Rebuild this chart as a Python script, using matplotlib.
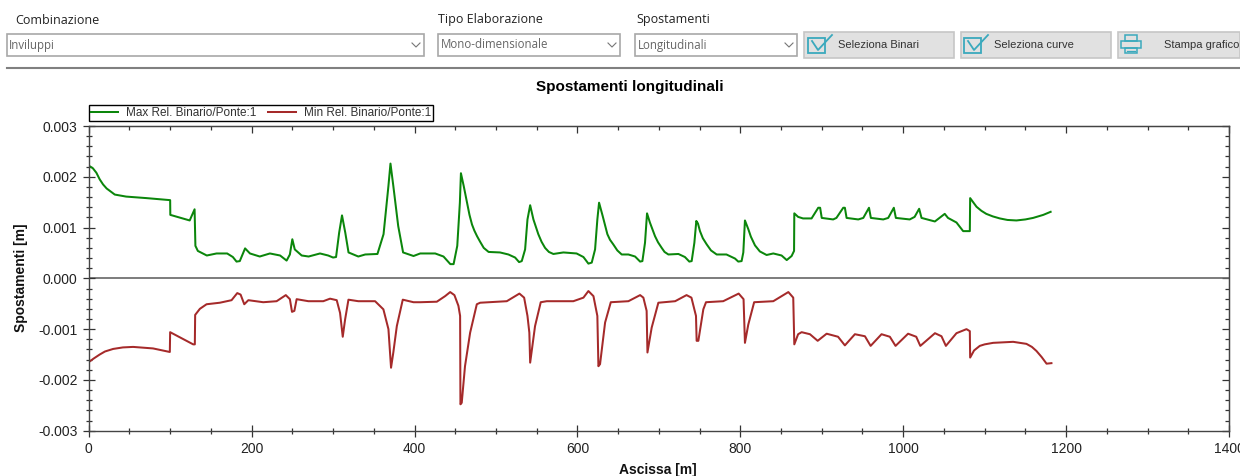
import matplotlib
matplotlib.use("Agg")
import matplotlib.pyplot as plt
from matplotlib.lines import Line2D
from matplotlib.patches import Rectangle
from matplotlib.ticker import MultipleLocator, FormatStrFormatter, NullFormatter
from matplotlib.transforms import Affine2D

# ==========================================
# DATA
# ==========================================
max_x = [0, 5, 9.4, 13.5, 17.6, 22, 32, 46, 71, 100, 100.2, 124, 130, 131, 134, 145, 157, 170, 177, 181.5, 185.5, 192, 198,
         210, 222.5, 235, 243, 247, 250, 253, 261.5, 270, 284, 294, 300, 303.7, 307.5, 311, 315, 319, 331, 339.5,
         354.5, 362, 368, 370.5, 374, 380, 386, 398.8, 407, 425.4, 435.6, 444, 448, 452.5, 455.7, 457, 460.4,
         464.8, 467.5, 470.6, 473.5, 476.8, 480.6, 485, 491, 505, 515.3, 523.5, 528.4, 531.7, 535.8, 538.7, 542, 546, 552, 556, 560.3,
         565, 570.5, 582.8, 599, 607.4, 613.5, 617.6, 621.7, 624.5, 626.6, 631, 636.8, 640, 644, 649, 654.4, 662.6, 670.8, 677,
         679.8, 683, 685.5, 689, 695.3, 699, 703.5, 707, 711.7, 724, 732, 737.4, 740.3, 743.6, 746, 748, 750.5, 754, 758.7, 764, 771,
         783, 793.5, 797.5, 801.6, 803.7, 805.7, 809.8, 813, 818, 824, 832.3, 840.5, 850.7, 857, 863, 866, 866.3, 871, 877,
         887.5, 895.7, 898, 900, 914, 918, 926.4, 928.4, 930.5, 944.8, 951, 958, 960.3, 975.5, 981.6, 988.5, 991,
         1008, 1014, 1019.6, 1022.5, 1038.9, 1051, 1055, 1065.4, 1073.6, 1081.8, 1082.2, 1090, 1096, 1102, 1110, 1118.6, 1128, 1139,
         1150, 1159.5, 1172, 1181]
max_y = [.00222, .00217, .00208, .00195, .00185, .00177, .00165, .00161, .00158, .00154, .00125, .00114, .00136, .00064, .00054,
         .00045, .00049, .00049, .00042, .00033, .00034, .00059, .00049, .00043, .00049, .00045, .00035, .00047,
         .00077, .00057, .00045, .00043, .00049, .00045, .00041, .00042, .0009, .00124, .0009, .00051, .00043,
         .00047, .00048, .00087, .00182, .00226, .00182, .00103, .00051, .00044, .00049, .00049, .00043, .00028,
         .00028, .00064, .00149, .00207, .00182, .00146, .00125, .00106, .00094, .00083, .00072, .0006, .00052, .00051, .00047, .00041,
         .00032, .00034, .00057, .00116, .00144, .00116, .00087, .00072, .0006, .00052, .00048, .00051, .00049, .00042, .00029,
         .00031, .00057, .00116, .00149, .00123, .00087, .00076, .00067, .00055, .00047, .00047, .00043, .00033, .00034, .0007,
         .00128, .0011, .00083, .00071, .0006, .00052, .00047, .00048, .00042, .00033, .00034, .0007, .00113, .00108, .00093,
         .00079, .00067, .00055, .00047, .00047, .00039, .00033, .00034, .00051, .00114, .00097, .00082, .00065, .00053, .00046, .00049, .00045,
         .00036, .00044, .00054, .00128, .00121, .00118, .00118, .00139, .00139, .00119, .00116, .00119, .00139,
         .00139, .00119, .00116, .00119, .00139, .00119, .00116, .00119, .00139, .00119, .00116, .00121, .00137,
         .00119, .00112, .00127, .00119, .0011, .00093, .00093, .00158, .00141, .00133, .00127, .00122, .00118, .00115, .00114, .00116,
         .00119, .00125, .00131]
min_x = [0, 6, 13.5, 20, 30, 42, 54.5, 79, 99.6, 100, 128.3, 130.3, 130.7, 136.5, 144.7, 161, 175.4, 182.4, 186.5, 191, 196,
         214.3, 230.7, 242, 247, 249.6, 252.5, 255.3, 269.7, 288, 296.3, 304.5, 308.6, 311.9, 314.8, 318.9, 331,
         351.6, 361.8, 368, 371.2, 374, 378.3, 385.6, 398.8, 407, 427.4, 437.6, 443.8, 449, 453.9, 456, 456.4, 458,
         462, 468.3, 476.5, 480.6, 513.3, 523.5, 528.8, 534.6, 538.7, 541, 542, 548, 555, 562.4, 595, 607.4, 613.5,
         619.7, 624.5, 625.8, 627.8, 634, 641, 662.6, 677, 681, 685, 686, 691.2, 699.4, 720, 734, 740, 745.6, 746.4,
         748.5, 754.6, 757.9, 779, 798, 804, 805.7, 809.8, 817, 840.5, 859, 865, 866.3, 871, 875.3, 885.5, 895, 906,
         920, 928.4, 940.7, 953, 960, 973.4, 983.6, 990.6, 1006, 1016, 1021, 1039, 1047, 1052.4, 1065.4, 1077.7,
         1081.8, 1082.2, 1087, 1094, 1100, 1110.4, 1135, 1151.3, 1158, 1163.6, 1170, 1176, 1182]
min_y = [-.00165, -.00158, -.0015, -.00144, -.00139, -.00136, -.00135, -.00138, -.00145, -.00106, -.0013, -.0013, -.00072, -.0006, -.00051,
         -.00048, -.00043, -.00029, -.00032, -.00051, -.00043, -.00047, -.00045, -.00033, -.00041, -.00066, -.00064,
         -.00041, -.00045, -.00045, -.0004, -.00043, -.00068, -.00115, -.00081, -.00042, -.00045, -.00045, -.00061,
         -.001, -.00176, -.00146, -.00094, -.00042, -.00047, -.00047, -.00046, -.00035, -.00027, -.00033, -.00054,
         -.00074, -.00248, -.00245, -.00173, -.00107, -.00051, -.00048, -.00045, -.00035, -.0003, -.00038, -.00074,
         -.00107, -.00166, -.00094, -.00047, -.00045, -.00045, -.00038, -.00025, -.00035, -.00074, -.00173, -.00169,
         -.00087, -.00047, -.00045, -.00033, -.00038, -.00064, -.00146, -.00097, -.00048, -.00045, -.00033, -.00038,
         -.00074, -.00123, -.00123, -.00061, -.00047, -.00045, -.0003, -.00041, -.00127, -.00091, -.00047, -.00045,
         -.00027, -.00038, -.0013, -.0011, -.00106, -.0011, -.00123, -.00109, -.00115, -.00132, -.0011, -.00114,
         -.00133, -.0011, -.00115, -.00133, -.00109, -.00115, -.00133, -.00108, -.00114, -.00133, -.00108, -.001,
         -.00104, -.00156, -.00142, -.00133, -.0013, -.00127, -.00125, -.00129, -.00135, -.00143, -.00155, -.00168, -.00167]

series_names = ["Max Rel. Binario/Ponte:1", "Min Rel. Binario/Ponte:1"]
combo_labels = ["Combinazione", "Tipo Elaborazione", "Spostamenti"]
combo_values = ["Inviluppi", "Mono-dimensionale", "Longitudinali"]
button_labels = ["Seleziona Binari", "Seleziona curve", "Stampa grafico"]

GREEN = "#0b860b"
RED = "#a52a2a"
UI_TEXT = "#444444"
TEAL = "#3aa9bd"

plt.rcParams['font.family'] = ['Liberation Sans', 'DejaVu Sans']

fig = plt.figure(figsize=(12.4, 4.76), dpi=100)
# pixel coordinates from the top left corner, for the form controls above the chart
px = Affine2D().scale(1 / 1240, -1 / 476).translate(0, 1) + fig.transFigure


def ui_rect(x0, y0, x1, y1, face, edge, lw=1.0):
    fig.add_artist(Rectangle((x0, y0), x1 - x0, y1 - y0, transform=px, facecolor=face, edgecolor=edge, linewidth=lw))


def ui_line(xs, ys, color, lw=1.0):
    fig.add_artist(Line2D(xs, ys, transform=px, color=color, linewidth=lw))


def ui_text(x, y, s, size=8.5, ha='left', family='Open Sans', color=UI_TEXT):
    fig.text(x, y, s, transform=px, fontsize=size, ha=ha, va='center', family=family, color=color)


# ==========================================
# FORM CONTROLS
# ==========================================
combo_boxes = [(7, 424, 15, 9), (438, 620, 438, 441), (635, 797, 636, 638)]
for (x0, x1, label_x, value_x), label, value in zip(combo_boxes, combo_labels, combo_values):
    ui_text(label_x, 20, label, size=9, color="#222222")
    ui_rect(x0, 33.5, x1, 56, "white", "#a8a8a8", 1.2)
    ui_text(value_x, 45, value, size=8.3, color="#666666")
    ui_line([x1 - 12, x1 - 8, x1 - 4], [43, 47, 43], "#777777", 0.8)

button_boxes = [(804, 954), (961, 1111), (1118, 1240)]
button_centers = [879, 1034, 1202]
for (x0, x1), cx, label in zip(button_boxes, button_centers, button_labels):
    ui_rect(x0, 32, x1, 57.5, "#e1e1e1", "#c6c6c6", 1.2)
    ui_text(cx, 45, label, size=8, ha='center', family='Liberation Sans', color="#333333")

# check icons and printer icon
for x0 in (808, 964):
    ui_rect(x0, 38, x0 + 17, 53, "none", TEAL, 1.3)
    ui_line([x0 + 4, x0 + 10, x0 + 24], [41, 50, 35], TEAL, 1.3)
ui_rect(1125, 35, 1137, 41, "none", TEAL, 1.1)
ui_rect(1121, 41, 1141, 48, "none", TEAL, 1.1)
ui_rect(1125, 48, 1137, 53, "none", TEAL, 1.1)
ui_line([1127, 1135], [50.5, 50.5], TEAL, 0.9)

ui_line([7, 1240], [68, 68], "#808080", 1.5)

# ==========================================
# CHART
# ==========================================
ax = fig.add_axes([88.7 / 1240, 1 - 430.7 / 476, (1229 - 88.7) / 1240, (430.7 - 126) / 476])
ax.plot(max_x, max_y, color=GREEN, lw=1.45, label=series_names[0])
ax.plot(min_x, min_y, color=RED, lw=1.45, label=series_names[1])
ax.axhline(0, color="#666666", lw=1.2, zorder=1)

ax.set_xlim(0, 1400)
ax.set_ylim(-0.003, 0.003)
ax.xaxis.set_major_locator(MultipleLocator(200))
ax.xaxis.set_minor_locator(MultipleLocator(50))
ax.yaxis.set_major_locator(MultipleLocator(0.001))
ax.yaxis.set_minor_locator(MultipleLocator(0.0002))
ax.yaxis.set_major_formatter(FormatStrFormatter('%.3f'))

for side in ax.spines:
    ax.spines[side].set_color("#444444")
    ax.spines[side].set_linewidth(1.0)
ax.tick_params(axis='both', which='major', direction='inout', length=8, width=0.9, color="#333333",
               labelsize=10, labelcolor="#222222", pad=4)
ax.tick_params(axis='both', which='minor', direction='inout', length=5, width=0.9, color="#333333")

# top and right edges carry ticks inward only
top = ax.secondary_xaxis('top')
top.xaxis.set_major_locator(MultipleLocator(200))
top.xaxis.set_minor_locator(MultipleLocator(50))
top.xaxis.set_major_formatter(NullFormatter())
top.tick_params(axis='x', which='major', direction='in', length=5, width=0.9, color="#333333")
top.tick_params(axis='x', which='minor', direction='in', length=3, width=0.9, color="#333333")
right = ax.secondary_yaxis('right')
right.yaxis.set_major_locator(MultipleLocator(0.001))
right.yaxis.set_minor_locator(MultipleLocator(0.0002))
right.yaxis.set_major_formatter(NullFormatter())
right.tick_params(axis='y', which='major', direction='in', length=5, width=0.9, color="#333333")
right.tick_params(axis='y', which='minor', direction='in', length=3, width=0.9, color="#333333")
for sec in (top, right):
    for side in sec.spines:
        sec.spines[side].set_color("#444444")

fig.text(630, 86.5, "Spostamenti longitudinali", transform=px, fontsize=11, fontweight='bold',
         ha='center', va='center', color="black")
fig.text(21, 278, "Spostamenti [m]", transform=px, fontsize=10, fontweight='bold',
         rotation=90, ha='center', va='center', color="#111111")
fig.text(658, 470, "Ascissa [m]", transform=px, fontsize=10, fontweight='bold',
         ha='center', va='center', color="#111111")

leg = ax.legend(loc='lower left', bbox_to_anchor=(89 / 1240, 1 - 120.5 / 476), bbox_transform=fig.transFigure,
                ncols=2, frameon=True, fancybox=False, edgecolor="black", framealpha=1, fontsize=8.5,
                borderaxespad=0, borderpad=0.15, handlelength=2.3, handletextpad=0.7, columnspacing=1.0,
                labelcolor="#333333")
leg.get_frame().set_linewidth(1.0)

fig.savefig("out.png", dpi=100)
